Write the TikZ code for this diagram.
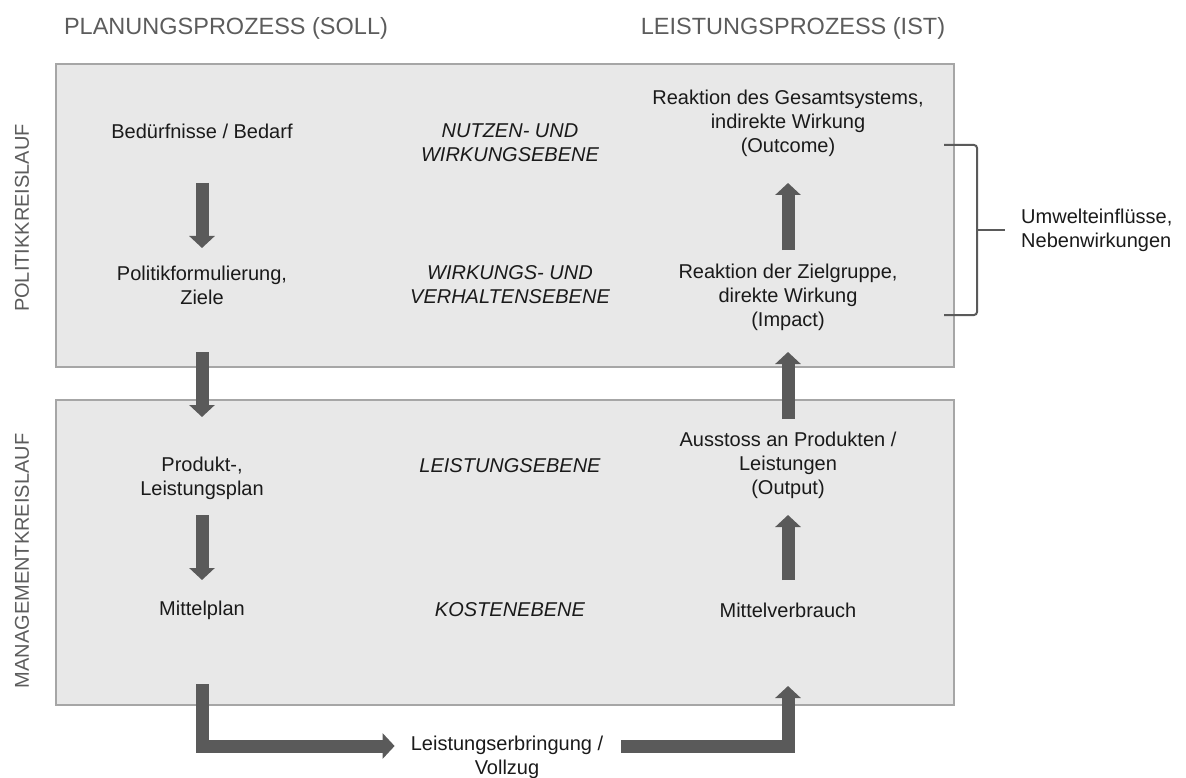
\documentclass[tikz,border=0pt]{standalone}
\usepackage{fontspec}
\setmainfont{Liberation Sans}
\usetikzlibrary{arrows.meta}
\definecolor{boxfill}{HTML}{E8E8E8}
\definecolor{boxline}{HTML}{A6A6A6}
\definecolor{arrowgray}{HTML}{5A5A5A}
\definecolor{headgray}{HTML}{5C5C5C}
\definecolor{txt}{HTML}{1A1A1A}
\begin{document}
\begin{tikzpicture}[x=1pt,y=-1pt,
  panel/.style={fill=boxfill,draw=boxline,line width=2pt},
  lbl/.style={inner sep=0pt,align=center,text=txt,font=\fontsize{20}{24}\selectfont},
  lvl/.style={lbl,font=\fontsize{20}{24}\selectfont\itshape},
  head/.style={inner sep=0pt,text=headgray,font=\fontsize{23.5}{27}\selectfont},
  side/.style={inner sep=0pt,text=headgray,font=\fontsize{20}{24}\selectfont,rotate=90},
  flow/.style={draw=arrowgray,line width=13pt,line join=miter,-{Triangle[width=25pt,length=12pt]}},
  brace/.style={draw=arrowgray,line width=2pt}
]
\useasboundingbox (0,0) rectangle (1186,778);

% the two control loops
\draw[panel] (56,64) rectangle (954,367);
\draw[panel] (56,400) rectangle (954,705);

% column headings and loop names
\node[head] (soll) at (226,28) {PLANUNGSPROZESS (SOLL)};
\node[head] (ist) at (793,28) {LEISTUNGSPROZESS (IST)};
\node[side] (politik) at (22,218) {POLITIKKREISLAUF};
\node[side] (management) at (22,561) {MANAGEMENTKREISLAUF};

% planning side
\node[lbl] (bed) at (202,131) {Bedürfnisse / Bedarf};
\node[lbl] (pol) at (202,285) {Politikformulierung,\\Ziele};
\node[lbl] (prod) at (202,478) {Produkt-,\\Leistungsplan};
\node[lbl] (mp) at (202,610) {Mittelplan};

% levels
\node[lvl] (nutzen) at (510,143) {NUTZEN- UND\\WIRKUNGSEBENE};
\node[lvl] (verhalten) at (510,285) {WIRKUNGS- UND\\VERHALTENSEBENE};
\node[lvl] (leistung) at (510,466) {LEISTUNGSEBENE};
\node[lvl] (kosten) at (510,610) {KOSTENEBENE};

% performance side
\node[lbl] (outcome) at (788,123) {Reaktion des Gesamtsystems,\\indirekte Wirkung\\(Outcome)};
\node[lbl] (impact) at (788,297) {Reaktion der Zielgruppe,\\direkte Wirkung\\(Impact)};
\node[lbl] (output) at (788,465) {Ausstoss an Produkten /\\Leistungen\\(Output)};
\node[lbl] (mv) at (788,610) {Mittelverbrauch};

% execution
\node[lbl] (vollzug) at (507,757) {Leistungserbringung /\\Vollzug};

% side effects
\node[lbl,align=left,anchor=west] (umwelt) at (1021,230) {Umwelteinflüsse,\\Nebenwirkungen};

% planning flow (downwards)
\draw[flow] (bed.south |- 0,183) -- (pol.north |- 0,248);
\draw[flow] (pol.south |- 0,352) -- (prod.north |- 0,417);
\draw[flow] (prod.south |- 0,515) -- (mp.north |- 0,580);

% execution flow
\draw[flow,shorten >=16pt] (mp.south |- 0,684) |- ([yshift=11pt]vollzug.west);
\draw[flow,shorten <=18pt] ([yshift=11pt]vollzug.east) -| (mv.south |- 0,686);

% performance flow (upwards)
\draw[flow] (mv.north |- 0,580) -- (output.south |- 0,515);
\draw[flow] (output.north |- 0,419) -- (impact.south |- 0,352);
\draw[flow] (impact.north |- 0,250) -- (outcome.south |- 0,183);

% bracket over outcome and impact
\draw[brace,rounded corners=3pt] (944,145) -- (977,145) -- (977,315) -- (944,315);
\coordinate (brk) at (977,230);
\draw[brace,shorten >=16pt] (brk) -- (umwelt.west);
\end{tikzpicture}
\end{document}
